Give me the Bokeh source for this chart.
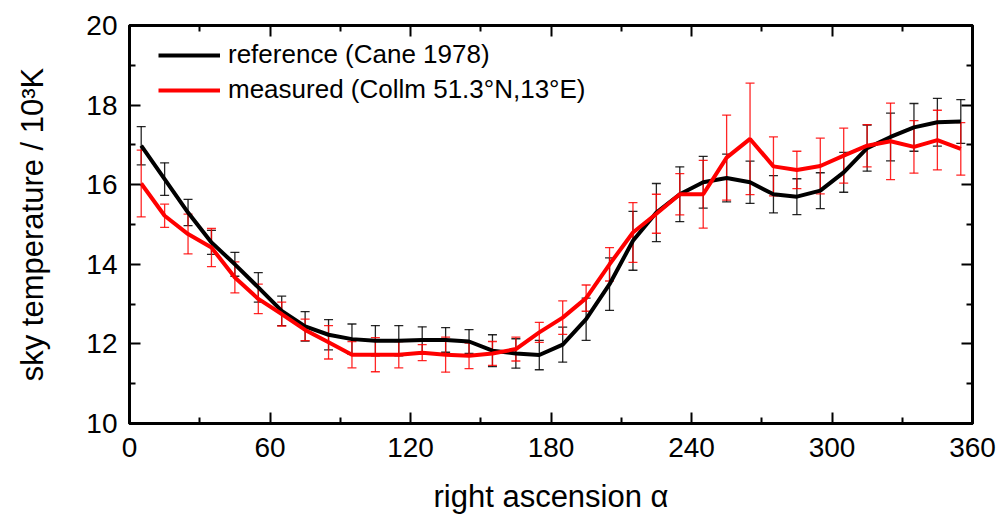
from bokeh.plotting import figure
from bokeh.models import (ColumnDataSource, Whisker, TeeHead, Range1d, FixedTicker,
                          LinearAxis, Legend, LegendItem)
from bokeh.embed import file_html
from bokeh.resources import INLINE

# right ascension (deg), bin centres
ra = [5, 15, 25, 35, 45, 55, 65, 75, 85, 95, 105, 115, 125, 135, 145, 155, 165, 175,
      185, 195, 205, 215, 225, 235, 245, 255, 265, 275, 285, 295, 305, 315, 325, 335, 345, 355]

# reference (Cane 1978), 10^3 K
ref_t = [16.98, 16.14, 15.30, 14.55, 14.00, 13.42, 12.83, 12.44, 12.23, 12.12, 12.08, 12.08,
         12.10, 12.10, 12.06, 11.83, 11.76, 11.72, 11.98, 12.62, 13.50, 14.59, 15.30, 15.76,
         16.06, 16.17, 16.06, 15.76, 15.70, 15.85, 16.31, 16.92, 17.20, 17.44, 17.57, 17.59]
ref_err = [0.48, 0.41, 0.33, 0.30, 0.30, 0.37, 0.37, 0.37, 0.38, 0.38, 0.38, 0.38,
           0.33, 0.31, 0.30, 0.40, 0.37, 0.37, 0.44, 0.53, 0.66, 0.74, 0.73, 0.69,
           0.65, 0.60, 0.53, 0.47, 0.45, 0.45, 0.50, 0.58, 0.60, 0.60, 0.60, 0.55]

# measured (Collm 51.3N, 13E), 10^3 K
mea_t = [16.03, 15.22, 14.76, 14.42, 13.67, 13.13, 12.75, 12.35, 12.04, 11.73, 11.73, 11.73,
         11.78, 11.73, 11.70, 11.76, 11.87, 12.29, 12.66, 13.15, 14.00, 14.80, 15.27, 15.76,
         15.76, 16.68, 17.15, 16.46, 16.37, 16.47, 16.73, 16.98, 17.09, 16.95, 17.12, 16.90]
mea_err = [0.84, 0.29, 0.50, 0.48, 0.39, 0.37, 0.30, 0.27, 0.42, 0.33, 0.43, 0.33,
           0.20, 0.44, 0.32, 0.30, 0.30, 0.25, 0.42, 0.33, 0.42, 0.75, 0.49, 0.52,
           0.85, 1.07, 1.40, 0.74, 0.47, 0.70, 0.69, 0.53, 0.96, 0.66, 0.75, 0.66]

x_ticks = [0, 60, 120, 180, 240, 300, 360]
x_minor = [30, 90, 150, 210, 270, 330]
y_ticks = [10, 12, 14, 16, 18, 20]
y_minor = [11, 13, 15, 17, 19]

FONT = "Liberation Sans"

src_ref = ColumnDataSource(dict(x=ra, y=ref_t,
                                lo=[a - b for a, b in zip(ref_t, ref_err)],
                                hi=[a + b for a, b in zip(ref_t, ref_err)]))
src_mea = ColumnDataSource(dict(x=ra, y=mea_t,
                                lo=[a - b for a, b in zip(mea_t, mea_err)],
                                hi=[a + b for a, b in zip(mea_t, mea_err)]))

p = figure(width=1001, height=522, output_backend="svg", toolbar_location=None,
           x_range=Range1d(0, 360), y_range=Range1d(10, 20),
           min_border_left=129, min_border_right=29, min_border_top=25, min_border_bottom=99)
p.grid.visible = False
p.outline_line_color = "black"
p.outline_line_width = 3
p.background_fill_color = "white"
p.border_fill_color = "white"

def style_axis(ax, ticks, minor, labels=True):
    ax.ticker = FixedTicker(ticks=ticks, minor_ticks=minor)
    ax.axis_line_width = 3
    ax.axis_line_color = "black"
    ax.major_tick_in = 11
    ax.major_tick_out = 0
    ax.minor_tick_in = 6
    ax.minor_tick_out = 0
    ax.major_tick_line_width = 2
    ax.minor_tick_line_width = 2
    ax.major_label_text_font = FONT
    ax.major_label_text_color = "black"
    ax.major_label_text_font_size = "28px"
    if not labels:
        ax.major_label_overrides = {t: "" for t in ticks}
        ax.major_label_standoff = 0

style_axis(p.xaxis[0], x_ticks, x_minor)
style_axis(p.yaxis[0], y_ticks, y_minor)
p.xaxis[0].major_label_standoff = 14
p.yaxis[0].major_label_standoff = 12
p.xaxis[0].axis_label = "right ascension \u03b1"
p.yaxis[0].axis_label = "sky temperature / 10\u00b3K"
for ax in (p.xaxis[0], p.yaxis[0]):
    ax.axis_label_text_font = FONT
    ax.axis_label_text_font_size = "31px"
    ax.axis_label_text_font_style = "normal"
    ax.axis_label_text_color = "black"
p.xaxis[0].axis_label_standoff = 19
p.yaxis[0].axis_label_standoff = 33

top = LinearAxis()
style_axis(top, x_ticks, x_minor, labels=False)
p.add_layout(top, "above")
right = LinearAxis()
style_axis(right, y_ticks, y_minor, labels=False)
p.add_layout(right, "right")

# error bars
for src, col, alpha in ((src_ref, "black", 0.85), (src_mea, "red", 0.85)):
    w = Whisker(source=src, base="x", lower="lo", upper="hi", dimension="height",
                line_color=col, line_width=1.3, line_alpha=alpha,
                lower_head=TeeHead(size=9, line_color=col, line_width=1.3, line_alpha=alpha),
                upper_head=TeeHead(size=9, line_color=col, line_width=1.3, line_alpha=alpha))
    p.add_layout(w)

l_ref = p.line("x", "y", source=src_ref, line_color="black", line_width=4)
l_mea = p.line("x", "y", source=src_mea, line_color="red", line_width=4)

legend = Legend(items=[LegendItem(label="reference (Cane 1978)", renderers=[l_ref]),
                       LegendItem(label="measured (Collm 51.3\u00b0N,13\u00b0E)", renderers=[l_mea])],
                location=(29, 318), margin=0, padding=0, spacing=4,
                glyph_width=62, glyph_height=30, label_height=30, label_standoff=8,
                label_text_font=FONT, label_text_font_size="26px", label_text_color="black",
                border_line_alpha=0, background_fill_alpha=0)
p.add_layout(legend)

open("out.html", "w").write(file_html(p, INLINE))
